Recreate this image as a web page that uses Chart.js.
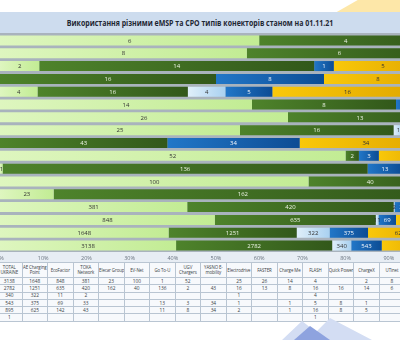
<!DOCTYPE html>
<html lang="uk">
<head>
<meta charset="utf-8">
<script src="https://cdn.jsdelivr.net/npm/chart.js@4.4.1/dist/chart.umd.min.js"></script>
<style>
  html, body { margin: 0; padding: 0; }
  body { width: 400px; height: 340px; overflow: hidden; position: relative; background: #fff; font-family: "Open Sans", "Liberation Sans", sans-serif; }
  .abs { position: absolute; }
  #deco-top { left: 335px; top: 0; width: 65px; height: 13px; background: #fde7a8; clip-path: polygon(35% 0, 100% 0, 100% 100%, 0 100%); }
  #title-band { left: 0; top: 12px; width: 400px; height: 21px; background: #cddcee; }
  #title { left: 0; top: 12px; width: 400px; height: 21px; line-height: 21px; text-align: center; font-weight: bold; font-size: 8px; color: #1e2733; white-space: nowrap; transform: scaleX(0.875); }
  #plot-bg { left: 0; top: 33px; width: 400px; height: 219px; background: #a9b3bd; }
  #axis-band { left: 0; top: 252px; width: 400px; height: 11px; background: #e7edf4; }
  #chart-wrap { left: -20px; top: 34px; width: 472px; height: 232px; }
  #tbl { left: -4px; top: 262px; width: 435px; border-collapse: collapse; table-layout: fixed; background: #f7f9fc; font-size: 4.8px; color: #3a3f45; }
  #tbl td { border: 1px solid #b9c5d2; text-align: center; padding: 0; line-height: 5px; overflow: hidden; white-space: nowrap; }
  #tbl tr { height: 7.3px; }
  #tbl tr.head { height: 15px; }
  #tbl tr.head td { font-size: 4.4px; letter-spacing: -0.1px; }
  .logo1 { left: 0; top: 0; width: 400px; height: 340px; background: #d3ddf3; clip-path: polygon(282px 340px, 302px 321px, 316px 332px, 330px 318px, 372px 340px); }
  .logo2 { left: 0; top: 0; width: 400px; height: 340px; background: #8ea3df; clip-path: polygon(294px 340px, 310px 326px, 330px 340px); }
</style>
</head>
<body>
<div id="deco-top" class="abs"></div>
<div id="title-band" class="abs"></div>
<div id="title" class="abs">Використання різними eMSP та CPO типів конекторів станом на 01.11.21</div>
<div id="plot-bg" class="abs"></div>
<div id="axis-band" class="abs"></div>
<div id="chart-wrap" class="abs"><canvas id="chart"></canvas></div>
<table id="tbl" class="abs"></table>
<div class="abs logo1"></div>
<div class="abs logo2"></div>
<script>
// categories, left to right in the table (bottom to top in the chart)
const companies = ['TOTAL UKRAINE', 'AE Charging Point', 'EcoFactor', 'TOKA Network', 'Elecar Group', 'EV-Net',
  'Go To-U', 'UGV Chargers', 'YASNO E-mobility', 'Electrodrive', 'FASTER', 'Charge Me', 'FLASH',
  'Quick Power', 'ChargeX', 'UTinet', 'Інші'];

// connector types (row headers are cut off in the picture)
const connectorTypes = ['Тип 1', 'Тип 2', 'Тип 3', 'Тип 4', 'Тип 5', 'Тип 6'];

const type1 = [3138, 1648, 848, 381, 23, 100, 1, 52, 0, 25, 26, 14, 4, 0, 2, 8, 6];
const type2 = [2782, 1251, 635, 420, 162, 40, 136, 2, 43, 16, 13, 8, 16, 16, 14, 6, 4];
const type3 = [340, 322, 11, 2, 0, 0, 0, 0, 0, 1, 0, 0, 4, 0, 0, 0, 0];
const type4 = [543, 375, 69, 33, 0, 0, 13, 3, 34, 1, 0, 1, 5, 8, 1, 0, 0];
const type5 = [895, 625, 142, 43, 0, 0, 11, 8, 34, 2, 0, 1, 16, 8, 5, 0, 0];
const type6 = [1, 0, 0, 0, 0, 0, 0, 0, 0, 0, 0, 0, 1, 0, 0, 0, 0];

const tickLabels = ['0%', '10%', '20%', '30%', '40%', '50%', '60%', '70%', '80%', '90%', '100%'];

const series = [type1, type2, type3, type4, type5, type6];
const colors = [
  ['#def6bf', '#c2ec94'],
  ['#4e832b', '#32581a'],
  ['#e0effa', '#a9d1f0'],
  ['#2277c8', '#0c4c94'],
  ['#f9c80a', '#e0a600'],
  ['#c9c9c9', '#a5a5a5']
];
const labelColors = ['#333', '#eef5e6', '#333', '#f2f6fb', '#333', '#333'];

const totals = companies.map((c, i) => series.reduce((s, arr) => s + arr[i], 0));
const pct = series.map(arr => arr.map((v, i) => v / totals[i] * 100));

// cumulative start of each segment, for gradients
function segStart(si, i) {
  let s = 0;
  for (let k = 0; k < si; k++) s += pct[k][i];
  return s;
}

const valueLabels = {
  id: 'valueLabels',
  afterDatasetsDraw(chart) {
    const ctx = chart.ctx;
    ctx.save();
    ctx.font = '6px "Open Sans", sans-serif';
    ctx.textAlign = 'center';
    ctx.textBaseline = 'middle';
    chart.data.datasets.forEach((ds, si) => {
      const meta = chart.getDatasetMeta(si);
      meta.data.forEach((bar, i) => {
        const raw = series[si][i];
        if (!raw) return;
        ctx.fillStyle = labelColors[si];
        ctx.fillText(String(raw), (bar.x + bar.base) / 2, bar.y + 0.5);
      });
    });
    ctx.restore();
  }
};

new Chart(document.getElementById('chart'), {
  type: 'bar',
  data: {
    labels: companies,
    datasets: series.map((arr, si) => ({
      label: connectorTypes[si],
      data: pct[si],
      borderWidth: 0,
      barPercentage: 1,
      categoryPercentage: 0.78,
      backgroundColor: function (c) {
        const chart = c.chart;
        if (!chart.chartArea || c.dataIndex === undefined) return colors[si][0];
        const x = chart.scales.x;
        const a = segStart(si, c.dataIndex);
        const x0 = x.getPixelForValue(a);
        const x1 = x.getPixelForValue(a + pct[si][c.dataIndex]);
        const g = chart.ctx.createLinearGradient(x0, 0, Math.max(x1, x0 + 1), 0);
        g.addColorStop(0, colors[si][0]);
        g.addColorStop(1, colors[si][1]);
        return g;
      }
    }))
  },
  options: {
    indexAxis: 'y',
    responsive: true,
    maintainAspectRatio: false,
    animation: false,
    layout: { padding: { left: 20, right: 20, top: 0, bottom: 0 } },
    plugins: { legend: { display: false }, tooltip: { enabled: false } },
    scales: {
      x: {
        stacked: true, min: 0, max: 100,
        grid: { display: false, drawTicks: false },
        border: { display: false },
        afterFit: s => { s.height = 14; },
        ticks: {
          stepSize: 10, padding: 3, color: '#6b7580',
          font: { size: 5.5, family: '"Open Sans", sans-serif' },
          callback: (v, i) => tickLabels[i]
        }
      },
      y: { stacked: true, reverse: true, display: false }
    }
  },
  plugins: [valueLabels]
});

// data table under the chart
const tbl = document.getElementById('tbl');
const headNames = companies.map(c => c.replace('TOTAL UKRAINE', 'TOTAL<br>UKRAINE')
  .replace('AE Charging Point', 'AE Charging<br>Point').replace('TOKA Network', 'TOKA<br>Network')
  .replace('UGV Chargers', 'UGV<br>Chargers').replace('YASNO E-mobility', 'YASNO E-<br>mobility'));
let html = '<tr class="head">' + headNames.map(n => `<td>${n}</td>`).join('') + '</tr>';
series.forEach(arr => {
  html += '<tr>' + arr.map(v => `<td>${v ? v : ''}</td>`).join('') + '</tr>';
});
tbl.innerHTML = html;
</script>
</body>
</html>
